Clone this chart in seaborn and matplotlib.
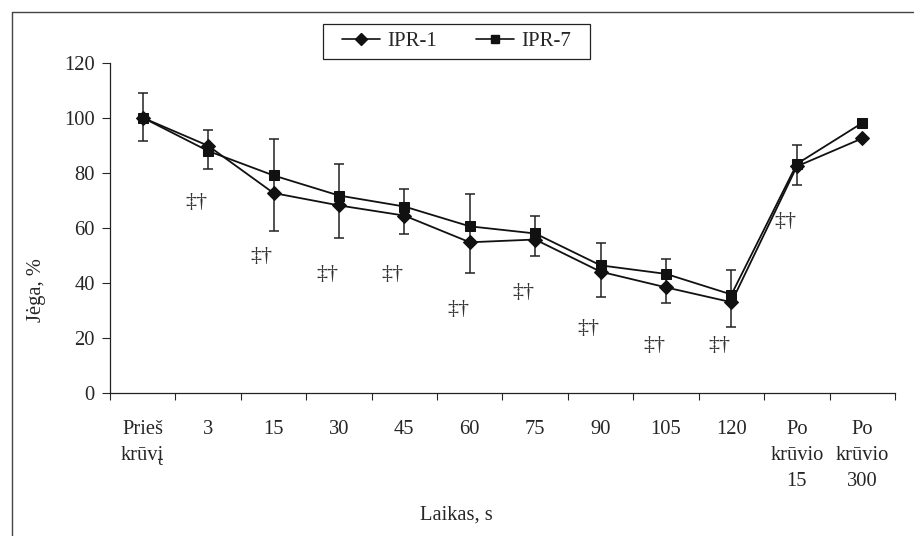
import numpy as np
import pandas as pd
import matplotlib
matplotlib.use("Agg")
import matplotlib.pyplot as plt
from matplotlib.lines import Line2D
from matplotlib.patches import Rectangle
import seaborn as sns

categories = ["Prieš\nkrūvį", "3", "15", "30", "45", "60", "75", "90", "105", "120",
              "Po\nkrūvio\n15", "Po\nkrūvio\n300"]
ipr1 = [100, 89.8, 72.6, 68.1, 64.4, 54.7, 55.7, 44.0, 38.3, 32.9, 82.3, 92.5]
ipr7 = [100, 87.9, 79.0, 71.7, 67.7, 60.5, 57.9, 46.3, 43.2, 35.7, 83.2, 98.1]
# error bars (drawn on IPR-7), only for the first 11 time points
err_up = [9.0, 7.7, 13.1, 11.6, 6.4, 11.7, 6.5, 8.3, 5.4, 8.8, 6.8]
err_down = [8.4, 6.5, 20.3, 15.5, 9.9, 17.1, 8.2, 11.6, 10.5, 11.8, 7.6]
# significance markers below points
sig_label = "‡†"
sig_y = [69, 49.5, 42.8, 42.8, 30.1, 36.6, 23.5, 17, 17, 62.4]
sig_idx = [1, 2, 3, 4, 5, 6, 7, 8, 9, 10]
yticks = [0, 20, 40, 60, 80, 100, 120]

sns.set_style("ticks")
plt.rcParams["font.family"] = ["Liberation Serif", "DejaVu Serif"]
plt.rcParams["font.size"] = 14.8

W, H = 914, 536
fig = plt.figure(figsize=(W / 100, H / 100), dpi=100)
ax_l, ax_r, ax_t, ax_b = 110, 895, 62.7, 392.7
ax = fig.add_axes([ax_l / W, 1 - ax_b / H, (ax_r - ax_l) / W, (ax_b - ax_t) / H])

pos = np.arange(len(categories))
df = pd.DataFrame({"pos": np.concatenate([pos, pos]),
                   "val": ipr1 + ipr7,
                   "series": ["IPR-1"] * len(pos) + ["IPR-7"] * len(pos)})

ax.errorbar(pos[:len(err_up)], ipr7[:len(err_up)], yerr=[err_down, err_up], fmt="none",
            ecolor="#222222", elinewidth=1.1, capsize=3.8, capthick=1.1, zorder=1)

sns.lineplot(data=df, x="pos", y="val", style="series", markers={"IPR-1": "D", "IPR-7": "s"},
             dashes=False, color="#111111", linewidth=1.3, markersize=7, ax=ax, legend=False,
             markeredgecolor="#111111", zorder=3)

for i, yv in zip(sig_idx, sig_y):
    ax.text(i - 0.18, yv, sig_label, ha="center", va="center", fontsize=16, color="#333333")

ax.set_xlim(-0.5, len(categories) - 0.5)
ax.set_ylim(0, 120)
ax.set_yticks(yticks)
ax.set_xticks(pos)
ax.set_xticklabels(categories, linespacing=1.5, va="top")
ax.set_xticks(np.arange(-0.5, len(categories), 1), minor=True)
ax.tick_params(axis="x", which="major", length=0, pad=20)
ax.tick_params(axis="x", which="minor", length=5, width=0.8, direction="out")
ax.tick_params(axis="y", length=6, width=0.8, direction="out", pad=5)
for s in ["top", "right"]:
    ax.spines[s].set_visible(False)
for s in ["left", "bottom"]:
    ax.spines[s].set_linewidth(0.9)
    ax.spines[s].set_color("#222222")

ax.set_xlabel("Laikas, s")
ax.xaxis.set_label_coords((456 - ax_l) / (ax_r - ax_l), -(515 - ax_b) / (ax_b - ax_t))
ax.xaxis.label.set_va("center")
ax.set_ylabel("Jėga, %")
ax.yaxis.set_label_coords((37 - ax_l) / (ax_r - ax_l), (ax_b - 290) / (ax_b - ax_t))
ax.yaxis.label.set_va("center")

handles = [Line2D([], [], color="#111111", marker="D", markersize=6, linewidth=1.2),
           Line2D([], [], color="#111111", marker="s", markersize=6, linewidth=1.2)]
leg = fig.legend(handles, ["IPR-1", "IPR-7"], loc="center", bbox_to_anchor=(456.5 / W, 1 - 41.5 / H),
                 ncol=2, frameon=False, handlelength=1.8, handletextpad=0.35,
                 columnspacing=1.9, borderpad=0.3, fontsize=15)
fig.add_artist(Rectangle((323 / W, 1 - 59 / H), (590 - 323) / W, 35 / H, transform=fig.transFigure,
                         facecolor="none", edgecolor="#222222", linewidth=0.9))

# figure border (left/top visible)
fig.add_artist(Line2D([12 / W, 12 / W], [0, 1 - 12 / H], color="#444444", linewidth=1.0,
                      transform=fig.transFigure))
fig.add_artist(Line2D([12 / W, 1], [1 - 12 / H, 1 - 12 / H], color="#444444", linewidth=1.0,
                      transform=fig.transFigure))

fig.savefig("out.png", dpi=100)
